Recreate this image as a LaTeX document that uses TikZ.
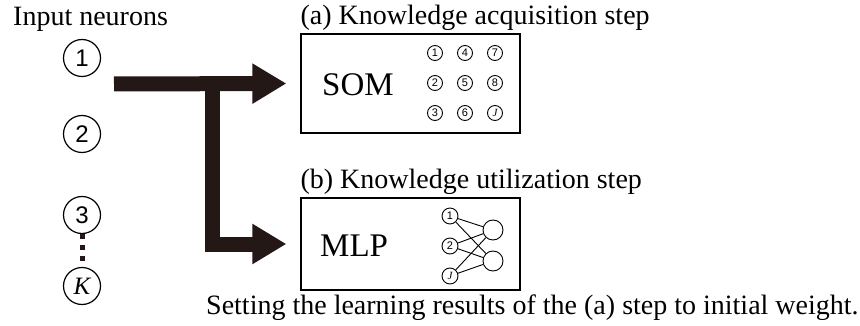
\documentclass[tikz,border=0pt]{standalone}
\usepackage{fontspec}
\setmainfont{Liberation Serif}
\setsansfont{Liberation Sans}
\usetikzlibrary{arrows.meta, positioning}
\definecolor{inkblack}{HTML}{231815}

\begin{document}
\begin{tikzpicture}[x=1pt, y=-1pt, inner sep=0pt,
		font=\fontsize{28}{30}\selectfont,
		neuron/.style={circle, draw, line width=1.2pt, minimum size=37pt, font=\fontsize{24}{24}\sffamily},
		unit/.style={circle, draw, line width=0.9pt, minimum size=15pt, font=\fontsize{11}{11}\sffamily},
		stepbox/.style={draw, line width=1.3pt, minimum width=219pt},
		bigarrow/.style={inkblack, line width=15pt, -{Triangle[length=34pt, width=38pt]}}]
	\useasboundingbox (0,0) rectangle (860,326);

	\node[anchor=west] (title) at (13,19) {Input neurons};
	\node[neuron] (in1) at (82,58) {1};
	\node[neuron] (in2) at (82,134) {2};
	\node[neuron] (in3) at (82,215) {3};
	\node[neuron, font=\fontsize{25}{25}\rmfamily\itshape] (inK) at (82,286) {K};
	\draw[inkblack, line width=5pt, dash pattern=on 5pt off 6pt] (in3) -- (inK);

	\node[stepbox, minimum height=99pt] (som) at (410.5,83.5) {};
	\node[anchor=south west] (heada) at ([yshift=3pt]som.north west) {(a) Knowledge acquisition step};
	\node[anchor=west, font=\fontsize{33}{33}\selectfont] (somtxt) at (322,85) {SOM};
	\foreach \lab [count=\i from 0] in {1,2,3,4,5,6,7,8,{\rmfamily\itshape J}}
		\node[unit] (som-\i) at ({435+30*int(\i/3)}, {53+30*mod(\i,3)}) {\lab};

	\node[stepbox, minimum height=92pt] (mlp) at (410.5,244) {};
	\node[anchor=south west] (headb) at ([yshift=3pt]mlp.north west) {(b) Knowledge utilization step};
	\node[anchor=west, font=\fontsize{33}{33}\selectfont] (mlptxt) at (320,246) {MLP};
	\node[unit, minimum size=16pt] (m1) at (450,216) {1};
	\node[unit, minimum size=16pt] (m2) at (450,246) {2};
	\node[unit, minimum size=16pt] (m3) at (450,276) {\rmfamily\itshape J};
	\node[unit, minimum size=20pt] (o1) at (493,230) {};
	\node[unit, minimum size=20pt] (o2) at (493,261) {};
	\foreach \a in {m1,m2,m3}
		\foreach \b in {o1,o2}
			\draw[line width=0.9pt] (\a) -- (\b);

	\node[anchor=west] (note) at (206,308) {Setting the learning results of the (a) step to initial weight.};

	\coordinate (src) at (114,84);
	\coordinate (fork) at (212.5,84);
	\draw[bigarrow] (src) -- ([xshift=-14pt]som.west);
	\draw[bigarrow, line join=miter] (fork) |- ([xshift=-14pt]mlp.west);
\end{tikzpicture}
\end{document}
